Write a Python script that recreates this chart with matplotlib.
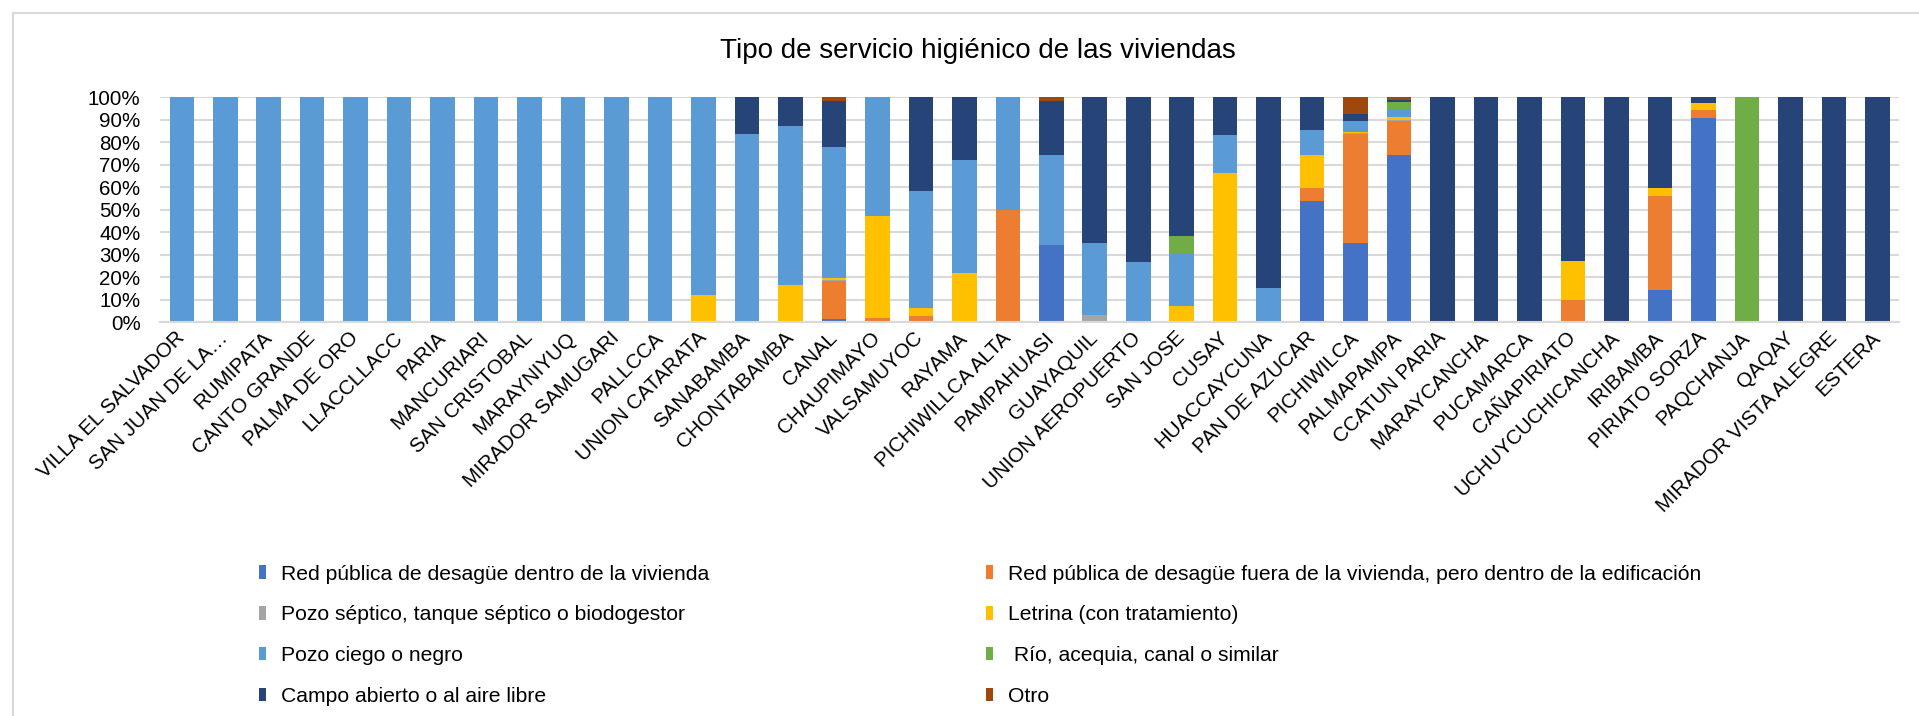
import matplotlib
matplotlib.use("Agg")
import matplotlib.pyplot as plt
import numpy as np
from matplotlib.patches import Patch
from matplotlib.lines import Line2D

plt.rcParams["font.family"] = ["Liberation Sans", "DejaVu Sans"]

comunidades = [
    "VILLA EL SALVADOR", "SAN JUAN DE LA…", "RUMIPATA", "CANTO GRANDE",
    "PALMA DE ORO", "LLACCLLACC", "PARIA", "MANCURIARI", "SAN CRISTOBAL",
    "MARAYNIYUQ", "MIRADOR SAMUGARI", "PALLCCA", "UNION CATARATA",
    "SANABAMBA", "CHONTABAMBA", "CANAL", "CHAUPIMAYO", "VALSAMUYOC",
    "RAYAMA", "PICHIWILLCA ALTA", "PAMPAHUASI", "GUAYAQUIL",
    "UNION AEROPUERTO", "SAN JOSE", "CUSAY", "HUACCAYCUNA", "PAN DE AZUCAR",
    "PICHIWILCA", "PALMAPAMPA", "CCATUN PARIA", "MARAYCANCHA", "PUCAMARCA",
    "CAÑAPIRIATO", "UCHUYCUCHICANCHA", "IRIBAMBA", "PIRIATO SORZA",
    "PAQCHANJA", "QAQAY", "MIRADOR VISTA ALEGRE", "ESTERA",
]

# porcentajes por tipo de servicio
red_dentro = [0] * 15 + [1.5, 0, 0, 0, 0, 34.3, 0, 0, 0, 0, 0, 53.9, 35.2, 74.4,
                         0, 0, 0, 0, 0, 14.4, 90.9, 0, 0, 0, 0]
red_fuera = [0] * 15 + [16.8, 1.8, 3.0, 0, 50.0, 0, 0, 0, 0, 0, 0, 5.8, 48.5, 14.9,
                        0, 0, 0, 10.0, 0, 41.8, 3.6, 0, 0, 0, 0]
pozo_septico = [0] * 15 + [0.6, 0, 0, 0, 0, 0, 3.3, 0, 0, 0, 0, 0, 0.4, 0.6,
                           0, 0, 0, 0, 0, 0, 0, 0, 0, 0, 0]
letrina = [0] * 12 + [12.2, 0, 16.8, 0.9, 45.7, 3.5, 21.8, 0, 0, 0, 0, 7.4, 66.6, 0,
                      14.6, 0.7, 1.2, 0, 0, 0, 17.2, 0, 3.7, 2.8, 0, 0, 0, 0]
pozo_ciego = [100] * 12 + [87.8, 83.7, 70.4, 57.5, 52.5, 51.9, 50.3, 50.0, 40.3,
                           32.2, 27.0, 23.1, 16.6, 15.5, 11.4, 4.5, 3.6,
                           0, 0, 0, 0, 0, 0, 0, 0, 0, 0, 0]
rio = [0] * 15 + [0.7, 0, 0, 0, 0, 0, 0, 0, 7.8, 0, 0, 0, 0, 3.4,
                  0, 0, 0, 0, 0, 0, 0, 100, 0, 0, 0]
campo = [0] * 13 + [16.3, 12.8, 20.5, 0, 41.6, 27.9, 0, 23.9, 64.5, 73.0, 61.7,
                    16.8, 84.5, 14.3, 3.1, 0.9, 100, 100, 100, 72.8, 100, 40.1,
                    2.7, 0, 100, 100, 100]
otro = [0] * 15 + [1.5, 0, 0, 0, 0, 1.5, 0, 0, 0, 0, 0, 0, 7.6, 1.0,
                   0, 0, 0, 0, 0, 0, 0, 0, 0, 0, 0]

series = [
    ("Red pública de desagüe dentro de la vivienda", red_dentro, "#4472C4"),
    ("Red pública de desagüe fuera de la vivienda, pero dentro de la edificación", red_fuera, "#ED7D31"),
    ("Pozo séptico, tanque séptico o biodogestor", pozo_septico, "#A5A5A5"),
    ("Letrina (con tratamiento)", letrina, "#FFC000"),
    ("Pozo ciego o negro", pozo_ciego, "#5B9BD5"),
    (" Río, acequia, canal o similar", rio, "#70AD47"),
    ("Campo abierto o al aire libre", campo, "#264478"),
    ("Otro", otro, "#9E480E"),
]

fig = plt.figure(figsize=(19.19, 7.16), dpi=100)
ax = fig.add_axes([0.0834, 0.5496, 0.9062, 0.3145])

x = np.arange(len(comunidades))
base = np.zeros(len(comunidades))
for nombre, valores, color in series:
    valores = np.array(valores, dtype=float)
    ax.bar(x, valores, 0.565, bottom=base, color=color, zorder=2)
    base += valores

ax.set_xlim(-0.5, len(comunidades) - 0.5)
ax.set_ylim(0, 100)
ax.set_yticks(np.arange(0, 101, 10))
ax.set_yticklabels([f"{v}%" for v in range(0, 101, 10)], fontsize=14.8)
ax.set_xticks(x)
ax.set_xticklabels(comunidades, rotation=45, ha="right", va="center",
                   rotation_mode="anchor", fontsize=14.8)
ax.tick_params(axis="y", length=0, pad=14)
ax.tick_params(axis="x", length=0, pad=9)
ax.grid(axis="y", color="#D9D9D9", linewidth=1.5, zorder=0)
for lado in ["top", "right", "left"]:
    ax.spines[lado].set_visible(False)
ax.spines["bottom"].set_color("#D9D9D9")
ax.spines["bottom"].set_linewidth(1.5)

fig.text(0.5096, 0.9286, "Tipo de servicio higiénico de las viviendas",
         ha="center", va="center", fontsize=20)

# leyenda en dos columnas, orden por filas como en Excel
handles = [Patch(facecolor=c, edgecolor="none") for _, _, c in series]
labels = [n for n, _, _ in series]
for col, x0 in [(0, 259 / 1919), (1, 986 / 1919)]:
    fig.legend(handles[col::2], labels[col::2], loc="upper left",
               bbox_to_anchor=(x0, 0.2115), frameon=False, fontsize=15.2,
               handlelength=0.35, handleheight=0.6, handletextpad=0.7,
               labelspacing=1.03, borderpad=0, borderaxespad=0)

# borde del area del grafico
fig.add_artist(Line2D([12.5 / 1919, 12.5 / 1919], [0, 1 - 12.5 / 716],
                      color="#D9D9D9", linewidth=1.5))
fig.add_artist(Line2D([12.5 / 1919, 1], [1 - 12.5 / 716, 1 - 12.5 / 716],
                      color="#D9D9D9", linewidth=1.5))

fig.savefig("out.png", dpi=100, facecolor="white")
